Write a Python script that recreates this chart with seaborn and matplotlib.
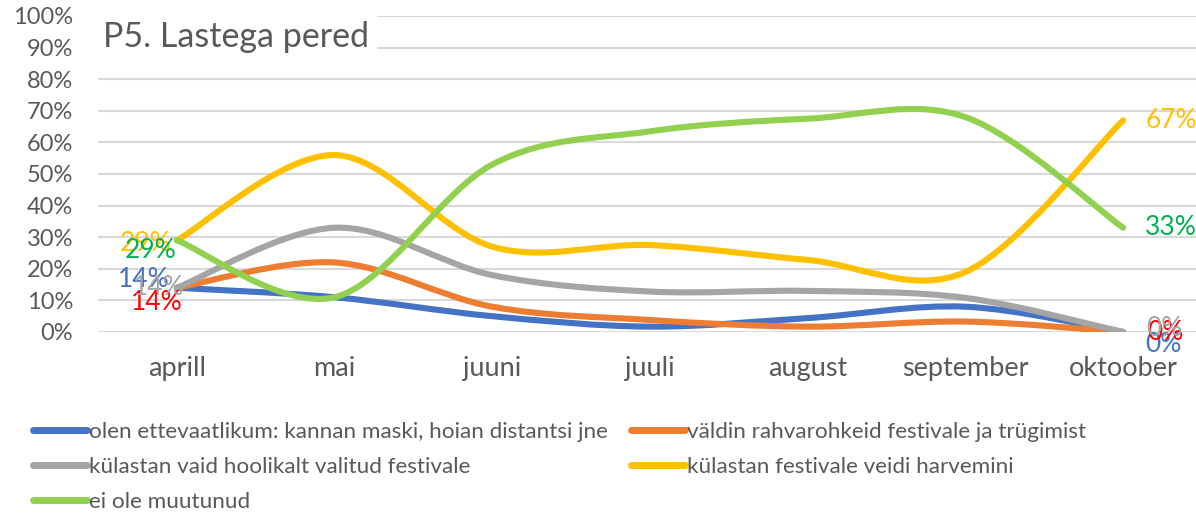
import numpy as np
import matplotlib.pyplot as plt
import seaborn as sns
from matplotlib.path import Path
from matplotlib.patches import PathPatch
from matplotlib.lines import Line2D
from matplotlib.ticker import PercentFormatter

# andmed (loetud jooniselt)
kuud = ['aprill', 'mai', 'juuni', 'juuli', 'august', 'september', 'oktoober']
ettevaatlik = [14, 11, 5, 1.7, 4.4, 8, 0]
valdin = [14, 22, 8, 3.8, 1.7, 3.3, 0]
valitud = [14, 33, 18, 12.8, 13, 10.8, 0]
harvemini = [29, 56, 27, 27.5, 22.8, 19, 67]
muutumatu = [29, 11, 53, 63.5, 67.5, 68, 33]

nimed = ['olen ettevaatlikum: kannan maski, hoian distantsi jne',
         'väldin rahvarohkeid festivale ja trügimist',
         'külastan vaid hoolikalt valitud festivale',
         'külastan festivale veidi harvemini',
         'ei ole muutunud']
seeriad = [ettevaatlik, valdin, valitud, harvemini, muutumatu]
joone_varvid = ['#4472C4', '#ED7D31', '#A5A5A5', '#FFC000', '#92D050']
sildi_varvid = ['#4472C4', '#FF0000', '#A5A5A5', '#FFC000', '#00B050']

sns.set_theme(style='white')
plt.rcParams['font.family'] = ['Lato', 'DejaVu Sans']


def sujuv_tee(xs, ys):
    # Exceli-laadne silutud joon (Bezier kontrollpunktidega)
    p = np.column_stack([xs, ys]).astype(float)
    n = len(p)
    verts = [p[0]]
    codes = [Path.MOVETO]
    for i in range(n - 1):
        p0 = p[max(i - 1, 0)]
        p1 = p[i]
        p2 = p[i + 1]
        p3 = p[min(i + 2, n - 1)]
        verts += [p1 + (p2 - p0) / 6, p2 - (p3 - p1) / 6, p2]
        codes += [Path.CURVE4] * 3
    return Path(verts, codes)


W, H = 1196, 516
fig = plt.figure(figsize=(W / 100, H / 100), dpi=100)
ax = fig.add_axes([98 / W, 1 - 332 / H, (1202 - 98) / W, (332 - 16) / H])

x = np.arange(len(kuud))
for ys, c in zip(seeriad, joone_varvid):
    ax.add_patch(PathPatch(sujuv_tee(x, ys), fill=False, edgecolor=c, lw=4.4,
                           capstyle='round', joinstyle='round'))

ax.set_xlim(-0.5, len(kuud) - 0.5)
ax.set_ylim(0, 100)
ax.set_yticks(range(0, 101, 10))
ax.yaxis.set_major_formatter(PercentFormatter(xmax=100, decimals=0))
ax.set_xticks(x)
ax.set_xticklabels(kuud)
ax.grid(axis='y', color='#D9D9D9', lw=1.5)
ax.set_axisbelow(True)
sns.despine(ax=ax, left=True, bottom=True)
ax.tick_params(axis='y', length=0, pad=18, labelsize=17, labelcolor='#595959')
ax.tick_params(axis='x', length=0, pad=17, labelsize=19.5, labelcolor='#595959')

# siltide nihked pikslites
vasak = [(-7, 8), (6, -15), (8, 0), (-5, -3), (0, -10)]
parem = [(22, -13), (24, -1), (23, 4), (22, 0), (22, 0)]
for ys, c, (dx1, dy1), (dx2, dy2) in zip(seeriad, sildi_varvid, vasak, parem):
    ax.annotate(f'{ys[0]:.0f}%', (0, ys[0]), xytext=(dx1, dy1), textcoords='offset pixels',
                ha='right', va='center', color=c, fontsize=19, annotation_clip=False)
    ax.annotate(f'{ys[-1]:.0f}%', (x[-1], ys[-1]), xytext=(dx2, dy2), textcoords='offset pixels',
                ha='left', va='center', color=c, fontsize=19, annotation_clip=False)

fig.text(103 / W, 1 - 47 / H, 'P5. Lastega pered', fontsize=24.5, color='#595959',
         va='baseline', ha='left',
         bbox=dict(facecolor='white', edgecolor='none', pad=6))

# legend ridade kaupa: matplotlib täidab veerge, seega järjestus ümber
jarjekord = [0, 2, 4, 1, 3]
kaepidemed = [Line2D([0], [0], color=joone_varvid[i], lw=5, solid_capstyle='round') for i in jarjekord]
fig.legend(kaepidemed, [nimed[i] for i in jarjekord], loc='upper left',
           bbox_to_anchor=(24 / W, 1 - 413 / H),
           ncol=2, frameon=False, fontsize=16.2, labelcolor='#595959', handlelength=2.4,
           handletextpad=0.1, columnspacing=1.0, labelspacing=0.66, borderaxespad=0)

fig.savefig('out.png', dpi=100)
